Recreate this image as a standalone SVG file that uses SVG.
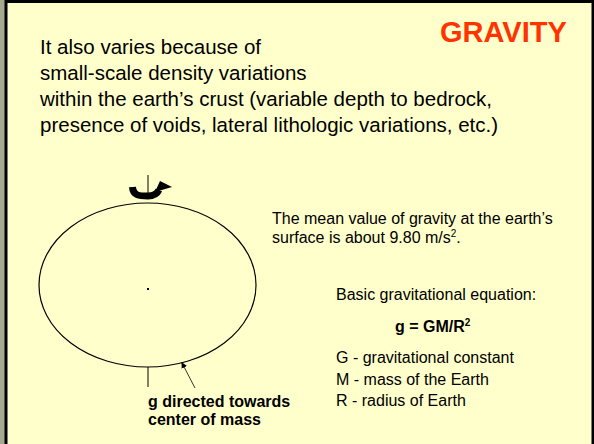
<svg xmlns="http://www.w3.org/2000/svg" width="594" height="444" viewBox="0 0 594 444">
<style>
.t{font-family:"Liberation Sans",Arial,sans-serif;fill:#000}
.big{font-size:20.5px}
.sm{font-size:16px}
.b{font-weight:bold}
.ln{stroke:#000;fill:none}
</style>
<defs>
<marker id="ah" markerWidth="6" markerHeight="6" refX="5" refY="3" orient="auto" markerUnits="userSpaceOnUse">
<path d="M0,0 L6,3 L0,6 z" fill="#000"/>
</marker>
</defs>
<rect x="0" y="0" width="594" height="444" fill="#a8a890"/>
<rect x="6" y="1.5" width="587" height="450" fill="#FFFFCC" stroke="#000" stroke-width="3"/>
<text class="t b" x="440" y="42" font-size="29" style="fill:#FF3300">GRAVITY</text>
<g id="intro">
<text class="t big" x="40" y="54">It also varies because of</text>
<text class="t big" x="40" y="80">small-scale density variations</text>
<text class="t big" x="40" y="106">within the earth’s crust (variable depth to bedrock,</text>
<text class="t big" x="40" y="132">presence of voids, lateral lithologic variations, etc.)</text>
</g>
<g id="earth">
<ellipse cx="147.5" cy="285" rx="108.5" ry="82" class="ln" stroke-width="1.2"/>
<rect x="147" y="288" width="2" height="2" fill="#000"/>
</g>
<g id="rotation">
<path d="M132.5,187 C133,196 140,196 148,196 C154,196 157,194 159,190" class="ln" stroke-width="7"/>
<polygon points="160,181 172,187 155,192" fill="#000"/>
</g>
<g id="mean-text">
<text class="t sm" x="272" y="224">The mean value of gravity at the earth’s</text>
<text class="t sm" x="272" y="243">surface is about 9.80 m/s<tspan font-size="10" dy="-6">2</tspan><tspan dy="6">.</tspan></text>
</g>
<g id="equation">
<text class="t sm" x="336" y="300">Basic gravitational equation:</text>
<text class="t sm b" x="395" y="332">g = GM/R<tspan font-size="10" dy="-6">2</tspan></text>
<text class="t sm" x="336" y="363">G - gravitational constant</text>
<text class="t sm" x="336" y="385">M - mass of the Earth</text>
<text class="t sm" x="336" y="406">R - radius of Earth</text>
</g>
<g id="g-label">
<text class="t sm b" x="148" y="407">g directed towards</text>
<text class="t sm b" x="148" y="425">center of mass</text>
</g>
<g id="connectors">
<line x1="148" y1="175" x2="148" y2="194" class="ln" stroke-width="1"/>
<line x1="148" y1="367" x2="148" y2="387" class="ln" stroke-width="1"/>
<line x1="195" y1="388" x2="182" y2="363" class="ln" stroke-width="0.8" marker-end="url(#ah)"/>
</g>
</svg>
